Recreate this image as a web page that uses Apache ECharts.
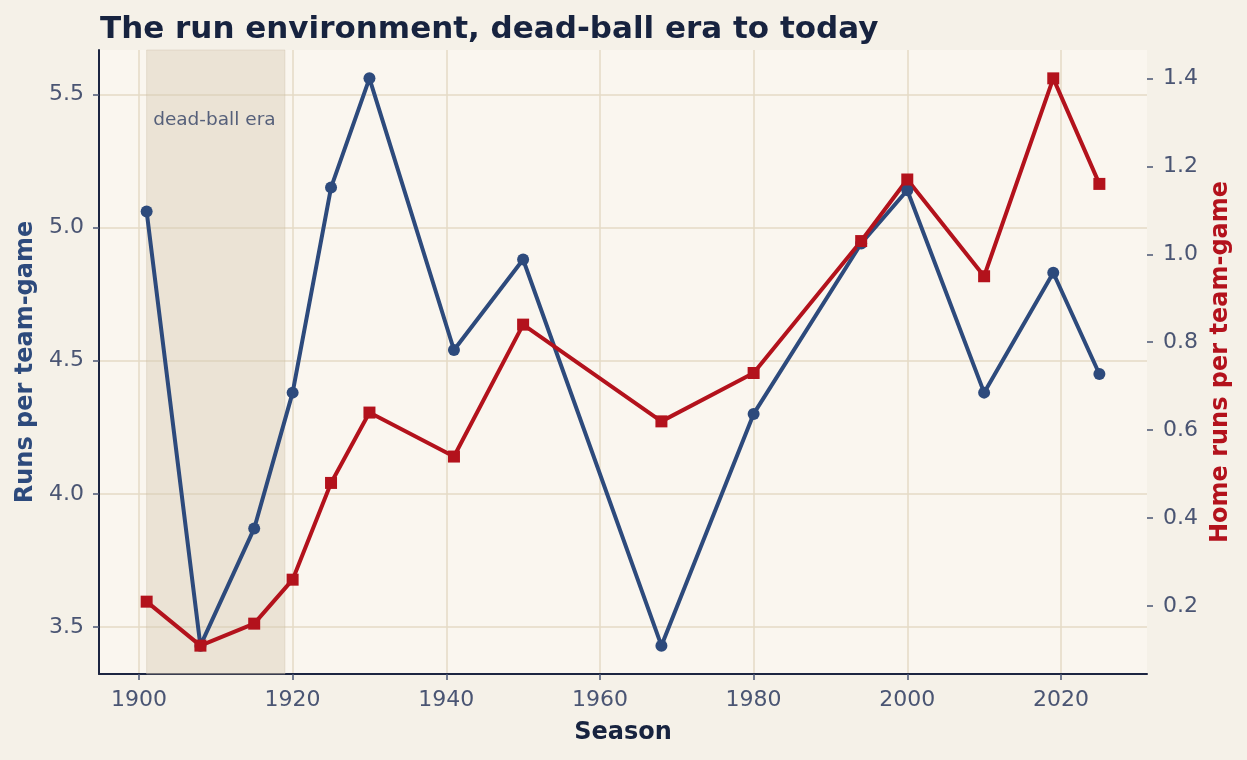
<!DOCTYPE html>
<html>
<head>
<meta charset="utf-8">
<script src="https://cdn.jsdelivr.net/npm/echarts@6/dist/echarts.min.js"></script>
<style>
  html, body { margin: 0; padding: 0; background: #f5f1e8; }
  #chart { width: 1247px; height: 760px; }
</style>
</head>
<body>
<div id="chart"></div>
<script>
var seasons = [1901, 1908, 1915, 1920, 1925, 1930, 1941, 1950, 1968, 1980, 1994, 2000, 2010, 2019, 2025];
var runsPerGame = [5.06, 3.43, 3.87, 4.38, 5.15, 5.56, 4.54, 4.88, 3.43, 4.30, 4.94, 5.14, 4.38, 4.83, 4.45];
var hrPerGame = [0.21, 0.11, 0.16, 0.26, 0.48, 0.64, 0.54, 0.84, 0.62, 0.73, 1.03, 1.17, 0.95, 1.40, 1.16];
var xTicks = [1900, 1920, 1940, 1960, 1980, 2000, 2020];
var leftTicks = [3.5, 4.0, 4.5, 5.0, 5.5];
var rightTicks = [0.2, 0.4, 0.6, 0.8, 1.0, 1.2, 1.4];
var deadBall = [1901, 1919];

var font = 'DejaVu Sans';
var ink = '#17233f';
var tickGrey = '#4a5573';
var blue = '#2d4a7c';
var red = '#b3121c';

// 5% padding around the data, like the source
function padded(arr) {
  var lo = Math.min.apply(null, arr), hi = Math.max.apply(null, arr);
  var p = (hi - lo) * 0.05;
  return [lo - p, hi + p];
}
var xr = padded(seasons), lr = padded(runsPerGame), rr = padded(hrPerGame);

var myChart = echarts.init(document.getElementById('chart'));

var option = {
  backgroundColor: '#f5f1e8',
  animation: false,
  textStyle: { fontFamily: font },
  title: {
    text: 'The run environment, dead-ball era to today',
    left: 95, top: 9,
    textStyle: { fontFamily: font, fontWeight: 'bold', fontSize: 31, color: ink }
  },
  grid: {
    left: 99, right: 100, top: 50, bottom: 86,
    show: true, backgroundColor: '#faf6ef', borderWidth: 0
  },
  xAxis: {
    type: 'value',
    min: xr[0], max: xr[1],
    name: 'Season', nameLocation: 'middle', nameGap: 47,
    nameTextStyle: { fontFamily: font, fontWeight: 'bold', fontSize: 24, color: ink },
    axisLine: { lineStyle: { color: '#1c2541', width: 2 } },
    axisTick: { customValues: xTicks, length: 6, lineStyle: { color: tickGrey, width: 1.5 } },
    axisLabel: { customValues: xTicks, margin: 15, fontSize: 22, color: tickGrey, fontFamily: font,
      formatter: function (v) { return String(v); } },
    splitLine: { show: true, lineStyle: { color: '#e4dac6', width: 1.5 } }
  },
  yAxis: [{
    type: 'value',
    min: lr[0], max: lr[1],
    name: 'Runs per team-game', nameLocation: 'middle', nameGap: 59,
    nameTextStyle: { fontFamily: font, fontWeight: 'bold', fontSize: 24, color: blue },
    axisLine: { show: true, lineStyle: { color: '#1c2541', width: 2 } },
    axisTick: { show: true, customValues: leftTicks, length: 6, lineStyle: { color: tickGrey, width: 1.5 } },
    axisLabel: { customValues: leftTicks, margin: 15, fontSize: 22, color: tickGrey, fontFamily: font,
      formatter: function (v) { return v.toFixed(1); } },
    splitLine: { show: true, lineStyle: { color: '#e4dac6', width: 1.5 } }
  }, {
    type: 'value',
    position: 'right',
    min: rr[0], max: rr[1],
    name: 'Home runs per team-game', nameLocation: 'middle', nameGap: 60,
    nameTextStyle: { fontFamily: font, fontWeight: 'bold', fontSize: 24, color: red },
    axisLine: { show: false },
    axisTick: { show: true, customValues: rightTicks, length: 6, lineStyle: { color: tickGrey, width: 1.5 } },
    axisLabel: { customValues: rightTicks, margin: 16, fontSize: 22, color: tickGrey, fontFamily: font,
      formatter: function (v) { return v.toFixed(1); } },
    splitLine: { show: false }
  }],
  series: [{
    name: 'Runs per team-game',
    type: 'line',
    yAxisIndex: 0,
    data: seasons.map(function (s, i) { return [s, runsPerGame[i]]; }),
    symbol: 'circle', symbolSize: 12,
    lineStyle: { color: blue, width: 4 },
    itemStyle: { color: blue },
    markArea: {
      silent: true,
      itemStyle: { color: 'rgba(212,201,176,0.4)', borderColor: 'rgba(200,186,160,0.35)', borderWidth: 1 },
      label: {
        show: true, position: [7, 61],
        fontFamily: font, fontSize: 18.5, color: '#56607a'
      },
      data: [[{ xAxis: deadBall[0], name: 'dead-ball era' }, { xAxis: deadBall[1] }]]
    }
  }, {
    name: 'Home runs per team-game',
    type: 'line',
    yAxisIndex: 1,
    data: seasons.map(function (s, i) { return [s, hrPerGame[i]]; }),
    symbol: 'rect', symbolSize: 12,
    lineStyle: { color: red, width: 4 },
    itemStyle: { color: red }
  }]
};

myChart.setOption(option);
</script>
</body>
</html>
